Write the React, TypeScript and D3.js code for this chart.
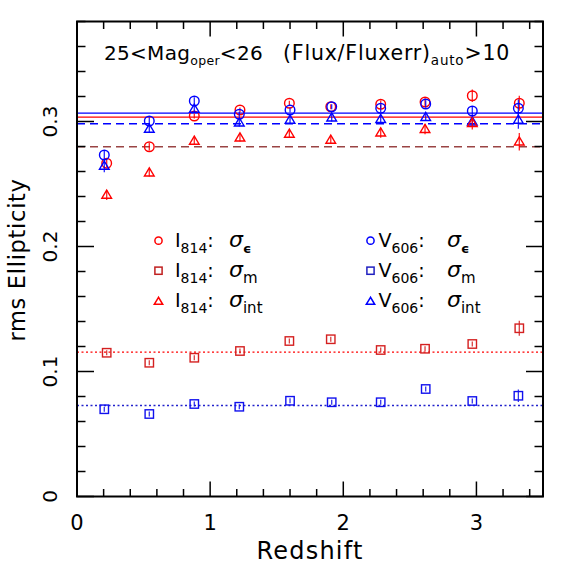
import React from 'react';
import * as d3 from 'd3';

// redshift bins (red = I814, blue = V606)
const zRed = [0.223, 0.543, 0.881, 1.224, 1.595, 1.906, 2.281, 2.614, 2.969, 3.322];
const zBlue = [0.205, 0.543, 0.881, 1.219, 1.6, 1.913, 2.281, 2.619, 2.969, 3.315];

// I814
const redEps = [0.2666, 0.2798, 0.3044, 0.3092, 0.3146, 0.3118, 0.3138, 0.3156, 0.3206, 0.3146];
const redEpsErr = [0.003, 0.003, 0.002, 0.002, 0.002, 0.002, 0.003, 0.003, 0.005, 0.006];
const redM = [0.115, 0.107, 0.111, 0.1164, 0.1244, 0.1258, 0.1172, 0.1182, 0.122, 0.1346];
const redMErr = [0.002, 0.002, 0.002, 0.002, 0.002, 0.002, 0.002, 0.002, 0.002, 0.006];
const redInt = [0.2412, 0.259, 0.2844, 0.287, 0.29, 0.2852, 0.291, 0.2938, 0.2986, 0.2838];
const redIntErr = [0.004, 0.003, 0.003, 0.003, 0.003, 0.003, 0.004, 0.004, 0.005, 0.007];

// V606
const blueEps = [0.2732, 0.3004, 0.3164, 0.3058, 0.3092, 0.3118, 0.3106, 0.314, 0.3084, 0.3106];
const blueEpsErr = [0.004, 0.003, 0.003, 0.002, 0.002, 0.002, 0.003, 0.003, 0.004, 0.007];
const blueM = [0.0698, 0.066, 0.074, 0.0718, 0.0766, 0.0754, 0.0754, 0.086, 0.0764, 0.0806];
const blueMErr = [0.002, 0.002, 0.002, 0.002, 0.002, 0.002, 0.002, 0.002, 0.002, 0.005];
const blueInt = [0.2644, 0.294, 0.31, 0.299, 0.3012, 0.303, 0.3018, 0.3034, 0.2998, 0.3012];
const blueIntErr = [0.005, 0.003, 0.003, 0.003, 0.003, 0.003, 0.003, 0.003, 0.004, 0.007];

// reference levels
const hLines = [
  { v: 0.3067, color: '#0000ff', dash: '' },
  { v: 0.3035, color: '#ff0000', dash: '' },
  { v: 0.2982, color: '#0000ff', dash: '8,5' },
  { v: 0.2798, color: '#9a4444', dash: '8,5' },
  { v: 0.1155, color: '#ff0000', dash: '2,2.5' },
  { v: 0.0728, color: '#2222cc', dash: '2,2.5' },
];

const xTicks = [0, 1, 2, 3];
const yTicks = [0, 0.1, 0.2, 0.3];

const W = 574;
const H = 574;
const margin = { top: 21.5, right: 31, bottom: 77.5, left: 77 };
const FONT = 'DejaVu Sans, sans-serif';

type Shape = 'circle' | 'square' | 'triangle';

function Marker({ shape, cx, cy, size, color, sw = 1.4 }: { shape: Shape; cx: number; cy: number; size: number; color: string; sw?: number }) {
  if (shape === 'circle') {
    return <circle cx={cx} cy={cy} r={size} fill="none" stroke={color} strokeWidth={sw} />;
  }
  if (shape === 'square') {
    return <rect x={cx - size} y={cy - size} width={size * 2} height={size * 2} fill="none" stroke={color} strokeWidth={sw} />;
  }
  const h = size * 1.75;
  const pts = [
    [cx, cy - h * 0.6],
    [cx - size * 1.05, cy + h * 0.4],
    [cx + size * 1.05, cy + h * 0.4],
  ];
  return <polygon points={pts.map(p => p.join(',')).join(' ')} fill="none" stroke={color} strokeWidth={sw} />;
}

export default function App() {
  const x = d3.scaleLinear().domain([0, 3.5]).range([margin.left, W - margin.right]);
  const y = d3.scaleLinear().domain([0, 0.38]).range([H - margin.bottom, margin.top]);
  const x0 = margin.left, x1 = W - margin.right, y0 = H - margin.bottom, y1 = margin.top;

  const xMinor = d3.range(0, 3.5001, 0.2).filter(v => !xTicks.some(t => Math.abs(t - v) < 1e-6));
  const yMinor = d3.range(0, 0.3801, 0.02).filter(v => !yTicks.some(t => Math.abs(t - v) < 1e-6));

  const series = [
    { z: zRed, v: redEps, e: redEpsErr, shape: 'circle' as Shape, color: '#ff0000', size: 4.8 },
    { z: zBlue, v: blueEps, e: blueEpsErr, shape: 'circle' as Shape, color: '#0000ff', size: 4.8 },
    { z: zRed, v: redM, e: redMErr, shape: 'square' as Shape, color: '#d42020', size: 4.2 },
    { z: zBlue, v: blueM, e: blueMErr, shape: 'square' as Shape, color: '#1010ee', size: 4.2 },
    { z: zBlue, v: blueInt, e: blueIntErr, shape: 'triangle' as Shape, color: '#0000ff', size: 4.6 },
    { z: zRed, v: redInt, e: redIntErr, shape: 'triangle' as Shape, color: '#ff0000', size: 4.6 },
  ];

  const legendLeft = [
    { shape: 'circle' as Shape, color: '#ff0000', sub: 'ϵ' },
    { shape: 'square' as Shape, color: '#c02020', sub: 'm' },
    { shape: 'triangle' as Shape, color: '#ff0000', sub: 'int' },
  ];
  const legendRight = [
    { shape: 'circle' as Shape, color: '#0000ff', sub: 'ϵ' },
    { shape: 'square' as Shape, color: '#2020c0', sub: 'm' },
    { shape: 'triangle' as Shape, color: '#0000ff', sub: 'int' },
  ];
  const legendRows = [240.7, 270.7, 301];

  return (
    <svg width={W} height={H} style={{ position: 'absolute', left: 0, top: 0, background: '#fff' }} fontFamily={FONT}>
      <rect width={W} height={H} fill="#fff" />

      {/* reference lines */}
      {hLines.map((l, i) => (
        <line key={i} x1={x0} x2={x1} y1={y(l.v)} y2={y(l.v)} stroke={l.color} strokeWidth={1.3} strokeDasharray={l.dash || undefined} />
      ))}

      {/* error bars and markers */}
      {series.map((s, si) => (
        <g key={si}>
          {s.v.map((v, i) => (
            <g key={i}>
              <line x1={x(s.z[i])} x2={x(s.z[i])} y1={y(v - s.e[i])} y2={y(v + s.e[i])} stroke={s.color} strokeWidth={1.3} opacity={0.85} />
              <Marker shape={s.shape} cx={x(s.z[i])} cy={y(v)} size={s.size} color={s.color} />
            </g>
          ))}
        </g>
      ))}

      {/* frame */}
      <rect x={x0} y={y1} width={x1 - x0} height={y0 - y1} fill="none" stroke="#000" strokeWidth={2} />

      {/* x ticks, bottom and top */}
      {xTicks.map(t => (
        <g key={'xt' + t}>
          <line x1={x(t)} x2={x(t)} y1={y0} y2={y0 - 15} stroke="#000" strokeWidth={1.5} />
          <line x1={x(t)} x2={x(t)} y1={y1} y2={y1 + 15} stroke="#000" strokeWidth={1.5} />
          <text x={x(t)} y={530} textAnchor="middle" fontSize={21}>{t}</text>
        </g>
      ))}
      {xMinor.map(t => (
        <g key={'xm' + t}>
          <line x1={x(t)} x2={x(t)} y1={y0} y2={y0 - 7.5} stroke="#000" strokeWidth={1.5} />
          <line x1={x(t)} x2={x(t)} y1={y1} y2={y1 + 7.5} stroke="#000" strokeWidth={1.5} />
        </g>
      ))}

      {/* y ticks, left and right */}
      {yTicks.map(t => (
        <g key={'yt' + t}>
          <line x1={x0} x2={x0 + 17} y1={y(t)} y2={y(t)} stroke="#000" strokeWidth={1.5} />
          <line x1={x1} x2={x1 - 17} y1={y(t)} y2={y(t)} stroke="#000" strokeWidth={1.5} />
          <text transform={`translate(57,${y(t)}) rotate(-90)`} textAnchor="middle" fontSize={20}>{t === 0 ? '0' : d3.format('.1f')(t)}</text>
        </g>
      ))}
      {yMinor.map(t => (
        <g key={'ym' + t}>
          <line x1={x0} x2={x0 + 8.5} y1={y(t)} y2={y(t)} stroke="#000" strokeWidth={1.5} />
          <line x1={x1} x2={x1 - 8.5} y1={y(t)} y2={y(t)} stroke="#000" strokeWidth={1.5} />
        </g>
      ))}

      {/* axis labels */}
      <text x={310} y={559} textAnchor="middle" fontSize={24} letterSpacing={1.2}>Redshift</text>
      <text transform={`translate(25,260) rotate(-90)`} textAnchor="middle" fontSize={22.5} letterSpacing={0.7}>rms Ellipticity</text>

      {/* title */}
      <text x={104} y={60} fontSize={20} letterSpacing={0.3}>
        25&lt;Mag<tspan fontSize={12.5} dy={5}>oper</tspan><tspan dy={-5}>&lt;26</tspan>
      </text>
      <text x={283} y={60} fontSize={20.5} letterSpacing={0.8}>
        (Flux/Fluxerr)<tspan fontSize={13.5} dy={5}>auto</tspan><tspan dy={-5}>&gt;10</tspan>
      </text>

      {/* legend */}
      {legendLeft.map((l, i) => (
        <g key={'ll' + i}>
          <Marker shape={l.shape} cx={158.5} cy={legendRows[i] + (l.shape === 'triangle' ? 0.5 : 0)} size={l.shape === 'triangle' ? 4 : 3.6} color={l.color} sw={1.5} />
          <text x={175} y={legendRows[i] + 6} fontSize={19}>
            I<tspan fontSize={14} dy={6}>814</tspan><tspan dy={-6}>:</tspan>
          </text>
          <text x={229} y={legendRows[i] + 6} fontSize={22} fontStyle="italic">
            σ<tspan fontSize={l.sub === 'ϵ' ? 13 : 15} dy={6} fontStyle="normal" fontWeight={l.sub === 'ϵ' ? 'bold' : 'normal'}>{l.sub}</tspan>
          </text>
        </g>
      ))}
      {legendRight.map((l, i) => (
        <g key={'lr' + i}>
          <Marker shape={l.shape} cx={370.5} cy={legendRows[i] + (l.shape === 'triangle' ? 0.5 : 0)} size={l.shape === 'triangle' ? 4 : 3.6} color={l.color} sw={1.5} />
          <text x={378.5} y={legendRows[i] + 6} fontSize={19}>
            V<tspan fontSize={14} dy={6}>606</tspan><tspan dy={-6}>:</tspan>
          </text>
          <text x={447} y={legendRows[i] + 6} fontSize={22} fontStyle="italic">
            σ<tspan fontSize={l.sub === 'ϵ' ? 13 : 15} dy={6} fontStyle="normal" fontWeight={l.sub === 'ϵ' ? 'bold' : 'normal'}>{l.sub}</tspan>
          </text>
        </g>
      ))}
    </svg>
  );
}
